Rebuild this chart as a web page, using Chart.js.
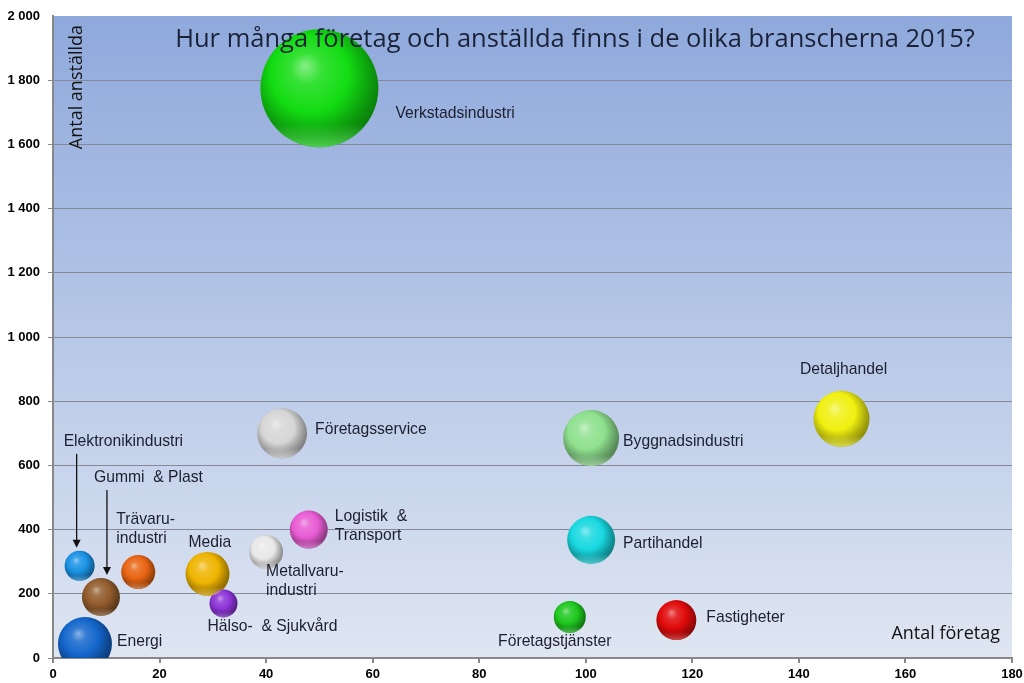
<!DOCTYPE html>
<html lang="sv">
<head>
    <meta charset="UTF-8">
    <title>Branscher 2015</title>
    <script src="https://cdn.jsdelivr.net/npm/chart.js"></script>
    <style>
        body { margin: 0; background: #fff; }
        #wrap { width: 1024px; height: 683px; position: relative; }
    </style>
</head>
<body>
    <div id="wrap"><canvas id="branschChart"></canvas></div>
    <script>
// Data
var branscher = ["Verkstadsindustri", "Detaljhandel", "Företagsservice", "Byggnadsindustri", "Partihandel",
    "Logistik  &\nTransport", "Metallvaru-\nindustri", "Media", "Hälso-  & Sjukvård", "Trävaru-\nindustri",
    "Elektronikindustri", "Gummi  & Plast", "Energi", "Företagstjänster", "Fastigheter"];
var antalForetag = [50, 148, 43, 101, 101, 48, 40, 29, 32, 16, 5, 9, 6, 97, 117];
var antalAnstallda = [1775, 745, 700, 685, 368, 400, 330, 262, 170, 268, 287, 190, 44, 128, 118];
var storlek = [59, 28, 25, 28, 24, 19, 17, 22, 14, 17, 15, 19, 27, 16, 20];
var yTicks = [0, 200, 400, 600, 800, 1000, 1200, 1400, 1600, 1800, 2000];
var xTicks = [0, 20, 40, 60, 80, 100, 120, 140, 160, 180];

var farger = ["#12dc12", "#f0f010", "#d6d6d6", "#8ee08e", "#18d8e0", "#e85cd4", "#e8e8e8", "#eeb400",
    "#8c34d6", "#e86412", "#1a92e4", "#925c2c", "#1466cc", "#1ec81e", "#e00a0a"];

// etikettplacering relativt bubblans mitt: [dx, dy, align]
var etikettPos = [[76, 25, "left"], [2, -49, "center"], [33, -4, "left"], [32, 4, "left"], [32, 4, "left"],
    [26, -13, "left"], [0, 20, "left"], [-19, -31, "left"], [-16, 23, "left"], [-22, -52, "left"],
    [-16, -124, "left"], [-7, -119, "left"], [32, -2, "left"], [-15, 25, "center"], [30, -2, "left"]];
var pilar = { 10: -3, 11: 6 }; // index -> x-förskjutning för pil

function justera(hex, f, alfa) {
    var n = parseInt(hex.slice(1), 16);
    var r = (n >> 16) & 255, g = (n >> 8) & 255, b = n & 255;
    function k(c) {
        return Math.round(f >= 0 ? c + (255 - c) * f : c * (1 + f));
    }
    return "rgba(" + k(r) + "," + k(g) + "," + k(b) + "," + (alfa === undefined ? 1 : alfa) + ")";
}

function klot(ctx) {
    var chart = ctx.chart;
    var i = ctx.dataIndex;
    if (!chart.scales.x || i === undefined) return farger[0];
    var cx = chart.scales.x.getPixelForValue(antalForetag[i]);
    var cy = chart.scales.y.getPixelForValue(antalAnstallda[i]);
    var r = storlek[i];
    var c = farger[i];
    if (!isFinite(cx) || !isFinite(cy)) return c;
    var g = chart.ctx.createRadialGradient(cx - r * 0.25, cy - r * 0.38, 0, cx - r * 0.1, cy - r * 0.15, r * 1.2);
    g.addColorStop(0, justera(c, 0.5));
    g.addColorStop(0.22, justera(c, 0.15));
    g.addColorStop(0.55, c);
    g.addColorStop(0.85, justera(c, -0.32));
    g.addColorStop(1, justera(c, -0.45));
    return g;
}

var bakgrund = {
    id: "bakgrund",
    beforeDraw: function (chart) {
        var a = chart.chartArea, c = chart.ctx;
        var g = c.createLinearGradient(0, a.top, 0, a.bottom);
        g.addColorStop(0, "#8fa9dc");
        g.addColorStop(1, "#dfe6f2");
        c.save();
        c.fillStyle = g;
        c.fillRect(a.left, a.top, a.right - a.left, a.bottom - a.top);
        c.restore();
    }
};

var etiketter = {
    id: "etiketter",
    afterDatasetsDraw: function (chart) {
        var c = chart.ctx;
        var a = chart.chartArea;
        var meta = chart.getDatasetMeta(0);
        c.save();
        // ljus reflex i klotens nederkant
        c.beginPath();
        c.rect(a.left, a.top, a.right - a.left, a.bottom - a.top);
        c.clip();
        meta.data.forEach(function (el, i) {
            var r = storlek[i];
            var g = c.createLinearGradient(0, el.y + r * 0.6, 0, el.y + r);
            g.addColorStop(0, justera(farger[i], 0.3, 0));
            g.addColorStop(1, justera(farger[i], 0.35, 0.75));
            c.save();
            c.beginPath();
            c.arc(el.x, el.y, r, 0, Math.PI * 2);
            c.clip();
            c.fillStyle = g;
            c.fillRect(el.x - r, el.y + r * 0.6, r * 2, r * 0.4);
            c.restore();
        });
        c.restore();

        c.save();
        c.font = "15.7px 'Liberation Sans', Arial, sans-serif";
        c.fillStyle = "#1c1f30";
        c.textBaseline = "middle";
        meta.data.forEach(function (el, i) {
            var p = etikettPos[i];
            c.textAlign = p[2];
            branscher[i].split("\n").forEach(function (rad, j) {
                c.fillText(rad, el.x + p[0], el.y + p[1] + j * 19);
            });
            if (pilar[i] !== undefined) {
                var x = el.x + pilar[i];
                var y0 = el.y + p[1] + 12;
                var y1 = el.y - storlek[i] - 3;
                c.strokeStyle = "#111";
                c.lineWidth = 1.3;
                c.beginPath();
                c.moveTo(x, y0);
                c.lineTo(x, y1 - 6);
                c.stroke();
                c.fillStyle = "#111";
                c.beginPath();
                c.moveTo(x - 4, y1 - 8);
                c.lineTo(x + 4, y1 - 8);
                c.lineTo(x, y1);
                c.closePath();
                c.fill();
                c.fillStyle = "#1c1f30";
            }
        });
        // titel och axeltitlar
        c.fillStyle = "#1b2238";
        c.font = "25.5px 'Open Sans', sans-serif";
        c.textAlign = "center";
        c.fillText("Hur många företag och anställda finns i de olika branscherna 2015?", 575, 40);
        c.font = "18px 'Open Sans', sans-serif";
        c.textAlign = "right";
        c.fillStyle = "#111";
        c.fillText("Antal företag", a.right - 12, 634);
        c.translate(77, 25);
        c.rotate(-Math.PI / 2);
        c.fillText("Antal anställda", 0, 0);
        c.restore();
    }
};

var ctx = document.getElementById("branschChart").getContext("2d");
var branschChart = new Chart(ctx, {
    type: "bubble",
    data: {
        datasets: [{
            data: antalForetag.map(function (x, i) {
                return { x: x, y: antalAnstallda[i], r: storlek[i] };
            }),
            backgroundColor: klot,
            borderWidth: 0,
            clip: 0
        }]
    },
    options: {
        responsive: true,
        maintainAspectRatio: false,
        animation: false,
        events: [],
        layout: { autoPadding: false, padding: { top: 16, right: 12, left: 0, bottom: 0 } },
        plugins: { legend: { display: false }, tooltip: { enabled: false } },
        scales: {
            x: {
                type: "linear",
                min: 0, max: 180,
                afterBuildTicks: function (s) { s.ticks = xTicks.map(function (v) { return { value: v }; }); },
                afterFit: function (s) { s.height = 25; s.paddingRight = 0; s.paddingLeft = 0; },
                grid: { drawOnChartArea: false, tickLength: 5, color: "#888", lineWidth: 2 },
                border: { color: "#888", width: 2 },
                ticks: { color: "#000", padding: 4, maxRotation: 0, font: { family: "'Liberation Sans', Arial", size: 13, weight: "bold" } }
            },
            y: {
                type: "linear",
                min: 0, max: 2000,
                afterBuildTicks: function (s) { s.ticks = yTicks.map(function (v) { return { value: v }; }); },
                afterFit: function (s) { s.width = 53; s.paddingTop = 0; s.paddingBottom = 0; },
                grid: {
                    tickLength: 5, lineWidth: 1,
                    color: function (c) { return c.tick && c.tick.value === 2000 ? "rgba(0,0,0,0)" : "#858a96"; }
                },
                border: { color: "#888", width: 2 },
                ticks: {
                    color: "#000", padding: 8,
                    font: { family: "'Liberation Sans', Arial", size: 13, weight: "bold" },
                    callback: function (v) { return String(v).replace(/\B(?=(\d{3})+(?!\d))/g, " "); }
                }
            }
        }
    },
    plugins: [bakgrund, etiketter]
});
    </script>
</body>
</html>
